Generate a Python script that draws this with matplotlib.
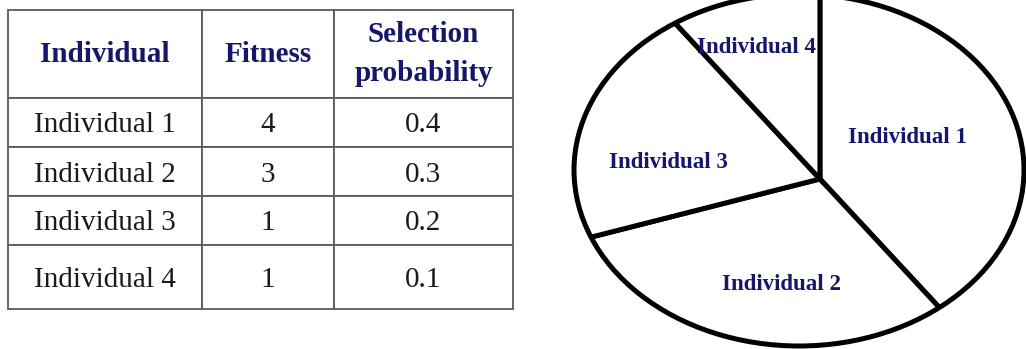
import matplotlib.pyplot as plt
from matplotlib.patches import Ellipse

# roulette wheel selection: table + wheel
individuals = ['Individual 1', 'Individual 2', 'Individual 3', 'Individual 4']
fitness = [4, 3, 1, 1]
probability = [0.4, 0.3, 0.2, 0.1]
headers = ['Individual', 'Fitness', 'Selection\nprobability']

NAVY = '#16166a'
W, H = 1026, 349

fig = plt.figure(figsize=(W / 100, H / 100), dpi=100)
fig.patch.set_facecolor('white')

# ---- table ----
ax_t = fig.add_axes([8 / W, (H - 309) / H, 505 / W, 299 / H])
ax_t.axis('off')

cell_text = [[name, str(f), f'{p:.1f}'] for name, f, p in zip(individuals, fitness, probability)]
tbl = ax_t.table(cellText=cell_text, colLabels=headers, cellLoc='center',
                 bbox=[0, 0, 1, 1])
tbl.auto_set_font_size(False)

col_w = [194, 132, 179]
row_h = [88, 49, 49, 49, 64]
for (r, c), cell in tbl.get_celld().items():
    cell.set_width(col_w[c])
    cell.set_height(row_h[r])
    cell.set_edgecolor('#5a5a5a')
    cell.set_linewidth(1.3)
    txt = cell.get_text()
    txt.set_fontfamily('Liberation Serif')
    txt.set_fontsize(21)
    if r == 0:
        txt.set_fontweight('bold')
        txt.set_color(NAVY)
        txt.set_linespacing(1.55)
    else:
        txt.set_color('#1a1a1a')
        txt.set_va('center_baseline')

# ---- roulette wheel ----
cx, cy, a, b = 799, H - 170, 225, 176
ax_p = fig.add_axes([(cx - a) / W, (cy - b) / H, 2 * a / W, 2 * b / H])
ax_p.axis('off')

hub = (0.093, -0.051)
wedges, _ = ax_p.pie(probability, startangle=90, counterclock=False,
                     center=hub, radius=1.6,
                     wedgeprops=dict(facecolor='white', edgecolor='black', linewidth=3.6))
ax_p.set_xlim(-1, 1)
ax_p.set_ylim(-1, 1)
ax_p.set_aspect('auto')

# clip the oversized wedges to the wheel rim so only the spokes remain
rim = Ellipse((0, 0), 2, 2, transform=ax_p.transData)
for w in wedges:
    w.set_clip_on(True)
    w.set_clip_path(rim)
ax_p.add_patch(Ellipse((0, 0), 2, 2, fill=False, edgecolor='black',
                       linewidth=3.6, clip_on=False, zorder=5))

label_xy = [(0.484, 0.182), (-0.076, -0.653), (-0.582, 0.045), (-0.188, 0.695)]
for name, (x, y) in zip(individuals, label_xy):
    ax_p.text(x, y, name, ha='center', va='center', fontsize=16.5,
              fontfamily='Liberation Serif', fontweight='bold', color=NAVY, zorder=6)

fig.savefig('out.png', dpi=100, facecolor='white')
